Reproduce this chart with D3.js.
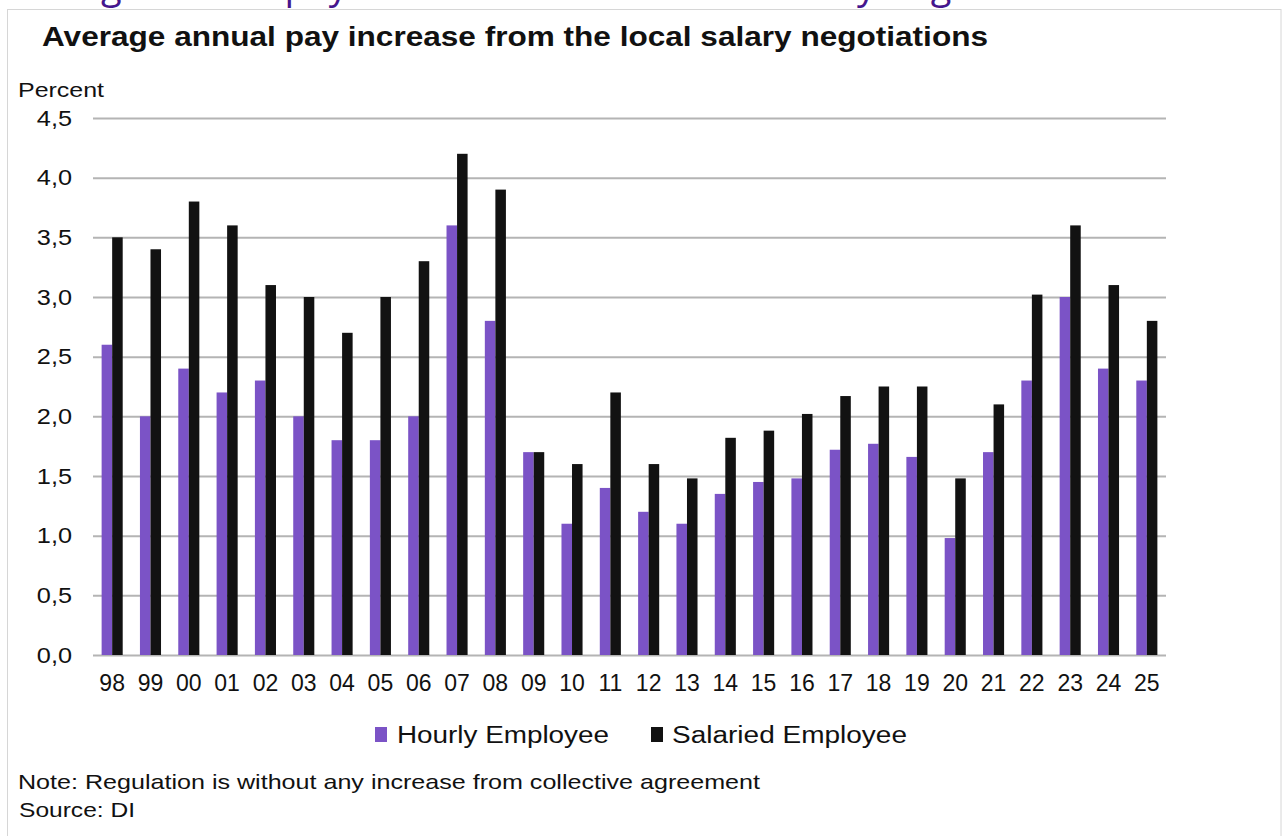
<!DOCTYPE html>
<html>
<head>
<meta charset="utf-8">
<script src="https://cdn.jsdelivr.net/npm/d3@7"></script>
<style>
  html, body { margin: 0; padding: 0; background: #fff; }
  svg { display: block; }
</style>
</head>
<body>
<svg id="chart" width="1282" height="836"></svg>
<script>
const years = ["98","99","00","01","02","03","04","05","06","07","08","09","10","11","12","13","14","15","16","17","18","19","20","21","22","23","24","25"];
const hourly = [2.6,2.0,2.4,2.2,2.3,2.0,1.8,1.8,2.0,3.6,2.8,1.7,1.1,1.4,1.2,1.1,1.35,1.45,1.48,1.72,1.77,1.66,0.98,1.7,2.3,3.0,2.4,2.3];
const salaried = [3.5,3.4,3.8,3.6,3.1,3.0,2.7,3.0,3.3,4.2,3.9,1.7,1.6,2.2,1.6,1.48,1.82,1.88,2.02,2.17,2.25,2.25,1.48,2.1,3.02,3.6,3.1,2.8];
const seriesNames = ["Hourly Employee","Salaried Employee"];
const seriesColors = ["#7b53c6","#121212"];
const yTicks = [0,0.5,1,1.5,2,2.5,3,3.5,4,4.5];
const titleText = "Average annual pay increase from the local salary negotiations";
const headerText = "Average annual pay increase from the local salary negotiations";
const unitText = "Percent";
const noteText = "Note: Regulation is without any increase from collective agreement";
const sourceText = "Source: DI";

const svg = d3.select("#chart");
const font = "'Liberation Sans', Arial, sans-serif";

// cut-off page header (only descenders visible)
svg.append("text").attr("x", 0).attr("y", -1)
  .attr("font-family", "'Open Sans', sans-serif").attr("font-size", 38)
  .attr("fill", "#45168d").text(headerText);

// frame
svg.append("rect").attr("x", 7.5).attr("y", 9.5).attr("width", 1273.5).attr("height", 840)
  .attr("fill", "#fff").attr("stroke", "#d6d6d6").attr("stroke-width", 1);

const plotL = 93, plotR = 1166, plotT = 118, plotB = 655;

const x0 = d3.scaleBand().domain(years).range([plotL, plotR]).paddingInner(0.45).paddingOuter(0.225);
const x1 = d3.scaleBand().domain([0,1]).range([0, x0.bandwidth()]);
const y = d3.scaleLinear().domain([0, 4.5]).range([plotB, plotT]);

const loc = d3.formatLocale({decimal: ",", thousands: ".", grouping: [3], currency: ["", ""]});
const fmt = loc.format(".1f");

// title
svg.append("text").attr("x", 42).attr("y", 46)
  .attr("font-family", font).attr("font-weight", "bold").attr("font-size", 28)
  .attr("textLength", 946).attr("lengthAdjust", "spacingAndGlyphs")
  .attr("fill", "#111").text(titleText);

svg.append("text").attr("x", 18).attr("y", 97)
  .attr("font-family", font).attr("font-size", 21)
  .attr("textLength", 86).attr("lengthAdjust", "spacingAndGlyphs")
  .attr("fill", "#111").text(unitText);

// gridlines + y labels
const sxLab = 1.15;
const yAxis = d3.axisLeft(y).tickValues(yTicks).tickFormat(fmt).tickSize(-(plotR - plotL)).tickPadding(21);
const gy = svg.append("g").attr("transform", `translate(${plotL},0)`).call(yAxis);
gy.select(".domain").remove();
gy.selectAll(".tick line").attr("stroke", "#b4b4b4").attr("stroke-width", 2);
gy.selectAll(".tick text").attr("font-family", font).attr("font-size", 22).attr("fill", "#111")
  .attr("x", -21 / sxLab).attr("transform", `scale(${sxLab},1)`);

// bars
const data = years.map((yr, i) => ({yr, vals: [hourly[i], salaried[i]]}));
const groups = svg.append("g").selectAll("g").data(data).join("g")
  .attr("transform", d => `translate(${x0(d.yr)},0)`);
groups.selectAll("rect").data(d => d.vals.map((v, k) => ({v, k}))).join("rect")
  .attr("x", d => x1(d.k)).attr("width", x1.bandwidth())
  .attr("y", d => y(d.v)).attr("height", d => y(0) - y(d.v))
  .attr("fill", d => seriesColors[d.k]);

// x axis labels
const xAxis = d3.axisBottom(x0).tickSize(0).tickPadding(20);
const gx = svg.append("g").attr("transform", `translate(0,${plotB})`).call(xAxis);
gx.select(".domain").remove();
gx.selectAll(".tick text").attr("font-family", font).attr("font-size", 23).attr("fill", "#111");

// legend
const legendItems = [{name: seriesNames[0], color: seriesColors[0], sx: 375, tx: 397, w: 212},
                     {name: seriesNames[1], color: seriesColors[1], sx: 651, tx: 672, w: 235}];
const lg = svg.append("g");
lg.selectAll("rect").data(legendItems).join("rect")
  .attr("x", d => d.sx).attr("y", 727).attr("width", 12).attr("height", 15)
  .attr("fill", d => d.color);
lg.selectAll("text").data(legendItems).join("text")
  .attr("x", d => d.tx).attr("y", 743)
  .attr("font-family", font).attr("font-size", 23)
  .attr("textLength", d => d.w).attr("lengthAdjust", "spacingAndGlyphs")
  .attr("fill", "#111").text(d => d.name);

svg.append("text").attr("x", 18).attr("y", 789)
  .attr("font-family", font).attr("font-size", 21)
  .attr("textLength", 742).attr("lengthAdjust", "spacingAndGlyphs")
  .attr("fill", "#111").text(noteText);
svg.append("text").attr("x", 19).attr("y", 817)
  .attr("font-family", font).attr("font-size", 21)
  .attr("textLength", 116).attr("lengthAdjust", "spacingAndGlyphs")
  .attr("fill", "#111").text(sourceText);
</script>
</body>
</html>
